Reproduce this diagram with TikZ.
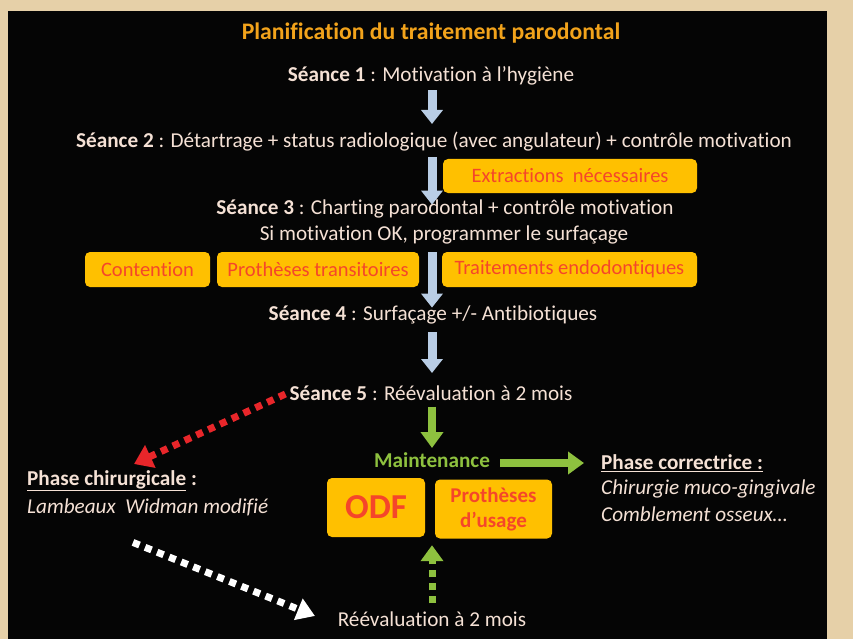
\documentclass[tikz,border=0pt]{standalone}
\usepackage{fontspec}
\setmainfont[Ligatures=NoCommon]{Carlito}
\usetikzlibrary{arrows.meta}
\definecolor{beige}{HTML}{E6D0A8}
\definecolor{txt}{HTML}{F5E1D5}
\definecolor{titlecol}{HTML}{F2A31B}
\definecolor{boxfill}{HTML}{FFC000}
\definecolor{boxtxt}{HTML}{F5462A}
\definecolor{blu}{HTML}{B9CDE5}
\definecolor{grn}{HTML}{8EC13F}
\definecolor{redarr}{HTML}{E8262A}
\tikzset{
  lbl/.style={text=txt, inner sep=0pt, font=\fontsize{21.2}{26}\selectfont},
  orbox/.style={fill=boxfill, rounded corners=5pt, inner sep=0pt, text=boxtxt, font=\fontsize{20.5}{24}\selectfont},
  bluarr/.style={draw=blu, line width=9pt, -{Triangle[width=21pt,length=14pt]}},
  grnarr/.style={draw=grn, line width=8pt, -{Triangle[width=22pt,length=16pt]}},
  reddot/.style={draw=redarr, line width=7pt, dash pattern=on 7pt off 6pt, -{Triangle[width=24pt,length=18pt]}},
  whitedot/.style={draw=white, line width=7pt, dash pattern=on 7pt off 6pt, -{Triangle[width=22pt,length=18pt]}},
  grndot/.style={draw=grn, line width=7pt, dash pattern=on 7pt off 6pt, -{Triangle[width=22pt,length=16pt]}},
}
\begin{document}
\begin{tikzpicture}[x=1pt,y=-1pt]
\useasboundingbox (0,0) rectangle (853,639);
\fill[beige] (0,0) rectangle (853,639);
\fill[black!98] (8,11) rectangle (827,639);
\coordinate (axis) at (432,0);

\node[text=titlecol, font=\fontsize{23.7}{28}\selectfont\bfseries, inner sep=0pt] (title) at (431,33) {Planification du traitement parodontal};

\node[lbl] (s1) at (431,76) {\textbf{Séance 1} : Motivation à l’hygiène};
\node[lbl] (s2) at (434,142) {\textbf{Séance 2} : Détartrage + status radiologique (avec angulateur) + contrôle motivation};
\node[lbl] (s3) at (445,209) {\textbf{Séance 3} : Charting parodontal + contrôle motivation};
\node[lbl] (s3b) at (444,235) {Si motivation OK, programmer le surfaçage};
\node[lbl] (s4) at (433,315) {\textbf{Séance 4} : Surfaçage +/- Antibiotiques};
\node[lbl] (s5) at (431,393) {\textbf{Séance 5} : Réévaluation à 2 mois};

\node[orbox, minimum width=254pt, minimum height=34pt, font=\fontsize{20.5}{24}\selectfont] (ext) at (570,176) {Extractions\ \ nécessaires};
\node[orbox, minimum width=125pt, minimum height=35pt] (cont) at (147.5,269.5) {Contention};
\node[orbox, minimum width=202pt, minimum height=35pt] (proth) at (318,269.5) {Prothèses transitoires};
\node[orbox, minimum width=255pt, minimum height=35pt] (endo) at (569.5,269.5) {Traitements endodontiques};

\node[text=grn, inner sep=0pt, font=\fontsize{21.2}{26}\selectfont\bfseries] (maint) at (432,460) {Maintenance};
\node[orbox, minimum width=98pt, minimum height=59pt, font=\fontsize{35}{38}\selectfont\bfseries] (odf) at (376,507.5) {ODF};
\node[orbox, minimum width=117pt, minimum height=59pt, align=center, font=\fontsize{21}{25}\selectfont\bfseries] (pu) at (493.5,509) {Prothèses\\d’usage};

\node[lbl, anchor=west] (pcor) at (601,463) {\textbf{\underline{Phase correctrice :}}};
\node[lbl, anchor=west] (chir) at (601,489) {\itshape Chirurgie muco-gingivale};
\node[lbl, anchor=west] (comb) at (601,514) {\itshape Comblement osseux…};

\node[lbl, anchor=west] (pchir) at (27,481) {\textbf{\underline{Phase chirurgicale}} \textbf{:}};
\node[lbl, anchor=west] (lamb) at (27,507) {\itshape Lambeaux\ \ Widman modifié};

\node[lbl] (reev) at (432,619) {Réévaluation à 2 mois};

\draw[bluarr] (s1.south -| axis) ++(0,5) -- (432,124);
\draw[bluarr] (s2.south -| axis) ++(0,5) -- ([yshift=-5pt]s3.north -| axis);
\draw[bluarr] (s3b.south -| axis) ++(0,8) -- ([yshift=-2pt]s4.north -| axis);
\draw[bluarr] (s4.south -| axis) ++(0,8) -- (432,373);
\draw[grnarr] (s5.south -| axis) ++(0,6) -- (432,448);
\draw[grnarr] (maint.east) ++(10,3) -- (584,463);
\draw[grndot] ([yshift=8pt]reev.north -| axis) -- ([yshift=-8pt]odf.south -| axis);
\draw[reddot] (s5.west) ++(-4,1) -- (134,464);
\draw[whitedot] (pchir.south west) ++(106,51) -- (315,616);
\end{tikzpicture}
\end{document}
